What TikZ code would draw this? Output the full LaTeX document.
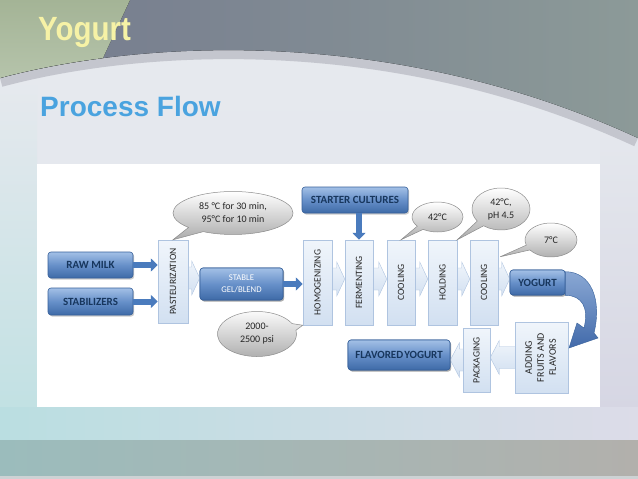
\documentclass[tikz,border=0pt]{standalone}
\usepackage{fontspec}
\setmainfont{Carlito}
\newfontfamily\titlefont{Liberation Sans}
\usetikzlibrary{shapes.callouts,shapes.geometric,arrows.meta,calc,shadows}
\definecolor{yogY}{HTML}{F6F2A6}
\definecolor{pfBlue}{HTML}{4AA3DF}
\definecolor{navy}{HTML}{17365D}
\definecolor{bxTop}{HTML}{A3C0E6}
\definecolor{bxMid}{HTML}{6790C9}
\definecolor{bxBot}{HTML}{3E6AA7}
\definecolor{bxLine}{HTML}{36609A}
\definecolor{arBlue}{HTML}{4A7BBD}
\definecolor{pTop}{HTML}{F0F5FB}
\definecolor{pBot}{HTML}{D2E0F1}
\definecolor{pLine}{HTML}{AFC4E0}
\definecolor{bgA}{RGB}{230,233,238}
\definecolor{bgB}{RGB}{228,231,238}
\definecolor{lsA}{RGB}{226,233,226}
\definecolor{lsB}{RGB}{190,224,226}
\definecolor{rsA}{RGB}{196,200,210}
\definecolor{rsB}{RGB}{222,218,202}
\definecolor{rsC}{RGB}{212,212,226}
\definecolor{s1A}{RGB}{186,222,225}
\definecolor{s1B}{RGB}{214,214,220}
\definecolor{s1C}{RGB}{220,220,232}
\definecolor{s2A}{RGB}{155,188,188}
\definecolor{s2B}{RGB}{168,168,174}
\definecolor{s2C}{RGB}{178,176,172}
\definecolor{s3}{RGB}{205,210,212}
\definecolor{swoosh}{RGB}{196,198,206}
\definecolor{tpA}{RGB}{116,122,142}
\definecolor{tpB}{RGB}{168,162,182}
\definecolor{tpC}{RGB}{140,154,152}
\definecolor{grA}{RGB}{164,180,150}
\definecolor{grB}{RGB}{184,198,174}
\definecolor{cvA}{RGB}{138,168,212}
\definecolor{cvB}{RGB}{66,106,170}
\tikzset{
  bluebox/.style={rounded corners=3pt, draw=bxLine, line width=0.6pt,
    top color=bxTop, bottom color=bxBot, middle color=bxMid,
    drop shadow={shadow xshift=1.2pt, shadow yshift=-1.5pt, fill=black!45, opacity=.45},
    font=\bfseries\fontsize{11}{12}\selectfont, text=navy, inner sep=0pt, align=center},
  procbox/.style={draw=pLine, line width=0.5pt, top color=pTop, bottom color=pBot,
    font=\fontsize{9.6}{10}\selectfont, text=black!85, inner sep=0pt, align=center},
  palearr/.style={draw=pLine, line width=0.4pt, top color=pTop, bottom color=pBot},
  calloutbox/.style={ellipse callout, draw=black!45, line width=0.5pt,
    top color=white, bottom color=black!33, callout pointer arc=18,
    font=\fontsize{10}{13}\selectfont, text=black!85, inner sep=0pt, align=center},
  barrow/.style={draw=arBlue, line width=6pt, -{Triangle[length=7pt,width=13pt]}}
}
\newcommand\palerarrow[2]{%
  \path[palearr] let \p1=(#1.east), \p2=(#2.west) in
   (\x1-0.5pt,\y1+14.5pt) -- (\x2-8pt,\y1+14.5pt) -- (\x2-8pt,\y1+20.5pt) -- (\x2,\y1+3.5pt)
   -- (\x2-8pt,\y1-13.5pt) -- (\x2-8pt,\y1-7.5pt) -- (\x1-0.5pt,\y1-7.5pt) -- cycle;}
\newcommand\palelarrow[2]{%
  \path[palearr] let \p1=(#1.west), \p2=(#2.east) in
   (\x1+0.5pt,\y1+11pt) -- (\x2+9pt,\y1+11pt) -- (\x2+9pt,\y1+17pt) -- (\x2,\y1)
   -- (\x2+9pt,\y1-17pt) -- (\x2+9pt,\y1-11pt) -- (\x1+0.5pt,\y1-11pt) -- cycle;}
\begin{document}
\begin{tikzpicture}[x=1pt,y=-1pt]
\useasboundingbox (0,0) rectangle (638,479);
% ---------- background ----------
\fill[top color=bgA, bottom color=bgB] (0,0) rectangle (638,440);
\fill[top color=bgA, middle color=lsA, bottom color=lsB] (0,80) rectangle (37,440);
\fill[top color=bgA, middle color=rsA, bottom color=rsC] (600,110) rectangle (638,440);
\fill[left color=s1A, middle color=s1B, right color=s1C] (0,407) rectangle (638,440);
\fill[left color=s2A, middle color=s2B, right color=s2C] (0,440) rectangle (638,476);
\fill[s3] (0,476) rectangle (638,479);
% top swoosh
\draw[line width=18pt, swoosh] (0,78) .. controls (150,38) and (400,28) .. (638,138);
\begin{scope}
\clip (0,0) -- (638,0) -- (638,138) .. controls (400,28) and (150,38) .. (0,78) -- cycle;
\fill[left color=tpA, middle color=tpB, right color=tpC] (0,0) rectangle (638,140);
\fill[top color=grA, bottom color=grB] (0,0) -- (130,0) -- (88,90) -- (0,90) -- cycle;
\end{scope}
% titles
\node[anchor=base west, inner sep=0pt, font=\titlefont\bfseries\fontsize{32}{34}\selectfont, text=yogY] (title) at (38,40) {\scalebox{0.92}[1.05]{Yogurt}};
\node[anchor=base west, inner sep=0pt, font=\titlefont\bfseries\fontsize{28}{30}\selectfont, text=pfBlue] (sub) at (40,116) {Process Flow};
% panel
\fill[white] (37,164) rectangle (600,407);
% ---------- process boxes ----------
\node[procbox, minimum width=30pt, minimum height=83pt] (pas) at (173,281.5) {\rotatebox{90}{PASTEURIZATION}};
\node[procbox, minimum width=29pt, minimum height=85pt] (hom) at (317.5,282.5) {\rotatebox{90}{HOMOGENIZING}};
\node[procbox, minimum width=28pt, minimum height=85pt] (fer) at (359,282.5) {\rotatebox{90}{FERMENTING}};
\node[procbox, minimum width=28pt, minimum height=85pt] (co1) at (401,282.5) {\rotatebox{90}{COOLING}};
\node[procbox, minimum width=29pt, minimum height=85pt] (hol) at (442.5,282.5) {\rotatebox{90}{HOLDING}};
\node[procbox, minimum width=28pt, minimum height=85pt] (co2) at (484,282.5) {\rotatebox{90}{COOLING}};
\node[procbox, minimum width=53pt, minimum height=71pt, font=\fontsize{10}{12}\selectfont] (add) at (541.5,357.5) {\rotatebox{90}{\begin{tabular}{@{}c@{}}ADDING\\FRUITS AND\\FLAVORS\end{tabular}}};
\node[procbox, minimum width=27pt, minimum height=64pt] (pac) at (476.5,360) {\rotatebox{90}{PACKAGING}};
% blue boxes
\node[bluebox, minimum width=85pt, minimum height=26pt] (raw) at (90.5,265) {RAW MILK};
\node[bluebox, minimum width=85pt, minimum height=27pt] (sta) at (90.5,301.5) {STABILIZERS};
\node[bluebox, minimum width=83pt, minimum height=32pt, font=\fontsize{8.7}{12.5}\selectfont, text=white] (gel) at (241.5,284) {STABLE\\GEL/BLEND};
\node[bluebox, minimum width=106pt, minimum height=26pt] (sc) at (355,200) {STARTER CULTURES};
\node[bluebox, minimum width=55pt, minimum height=25pt] (yog) at (537.5,282.5) {YOGURT};
\node[bluebox, minimum width=102pt, minimum height=30pt] (fy) at (399,355) {FLAVORED\hspace{1pt}YOGURT};
% pale connector arrows
\palerarrow{pas}{gel}
\palerarrow{hom}{fer}
\palerarrow{fer}{co1}
\palerarrow{co1}{hol}
\palerarrow{hol}{co2}
\palerarrow{co2}{yog}
\palelarrow{add}{pac}
\palelarrow{pac}{fy}
% redraw boxes on top of the arrows' tails
\node[procbox, minimum width=30pt, minimum height=83pt] at (pas) {\rotatebox{90}{PASTEURIZATION}};
\node[procbox, minimum width=29pt, minimum height=85pt] at (hom) {\rotatebox{90}{HOMOGENIZING}};
\node[procbox, minimum width=28pt, minimum height=85pt] at (fer) {\rotatebox{90}{FERMENTING}};
\node[procbox, minimum width=28pt, minimum height=85pt] at (co1) {\rotatebox{90}{COOLING}};
\node[procbox, minimum width=29pt, minimum height=85pt] at (hol) {\rotatebox{90}{HOLDING}};
\node[procbox, minimum width=28pt, minimum height=85pt] at (co2) {\rotatebox{90}{COOLING}};
\node[procbox, minimum width=53pt, minimum height=71pt, font=\fontsize{10}{12}\selectfont] at (add) {\rotatebox{90}{\begin{tabular}{@{}c@{}}ADDING\\FRUITS AND\\FLAVORS\end{tabular}}};
\node[procbox, minimum width=27pt, minimum height=64pt] at (pac) {\rotatebox{90}{PACKAGING}};
\node[bluebox, minimum width=83pt, minimum height=32pt, font=\fontsize{8.7}{12.5}\selectfont, text=white] at (gel) {STABLE\\GEL/BLEND};
\node[bluebox, minimum width=55pt, minimum height=25pt] at (yog) {YOGURT};
\node[bluebox, minimum width=102pt, minimum height=30pt] at (fy) {FLAVORED\hspace{1pt}YOGURT};
% blue arrows
\draw[barrow] (raw.east) -- (pas.west |- raw.east);
\draw[barrow] (sta.east) -- (pas.west |- sta.east);
\draw[barrow] (gel.east) -- (hom.west |- gel.east);
\draw[barrow] (fer.north |- sc.south) -- (fer.north);
% curved arrow yogurt -> adding
\path[top color=cvA, bottom color=cvB, draw=bxLine, line width=0.4pt]
  let \p1=(yog.north east), \p2=(yog.south east) in
  ($(\x1,\y1)+(0,-2pt)$) .. controls ($(\x1,\y1)+(26pt,-2pt)$) and (602,300) .. (594,333) -- (598,338) -- (569,348)
  -- (577,323) -- (584,328) .. controls (589,308) and ($(\x2,\y2)+(17pt,0)$) .. (\x2,\y2) -- cycle;
% callouts
\node[calloutbox, minimum width=120pt, minimum height=43pt, callout absolute pointer={(pas.north)}] (c1) at (233,213) {85 °C for 30 min,\\95°C for 10 min};
\node[calloutbox, minimum width=79pt, minimum height=45pt, callout absolute pointer={(hom.south west)}] (c2) at (257,334) {2000-\\2500 psi};
\node[calloutbox, minimum width=51pt, minimum height=30pt, callout absolute pointer={(co1.north)}] (c3) at (437.5,217) {42°C};
\node[calloutbox, minimum width=58pt, minimum height=42pt, callout absolute pointer={(hol.north east)}] (c4) at (501,209) {42°C,\\pH 4.5};
\node[calloutbox, minimum width=52pt, minimum height=34pt, callout absolute pointer={($(co2.north east)+(2,17)$)}] (c5) at (551,240) {7°C};
\end{tikzpicture}
\end{document}
